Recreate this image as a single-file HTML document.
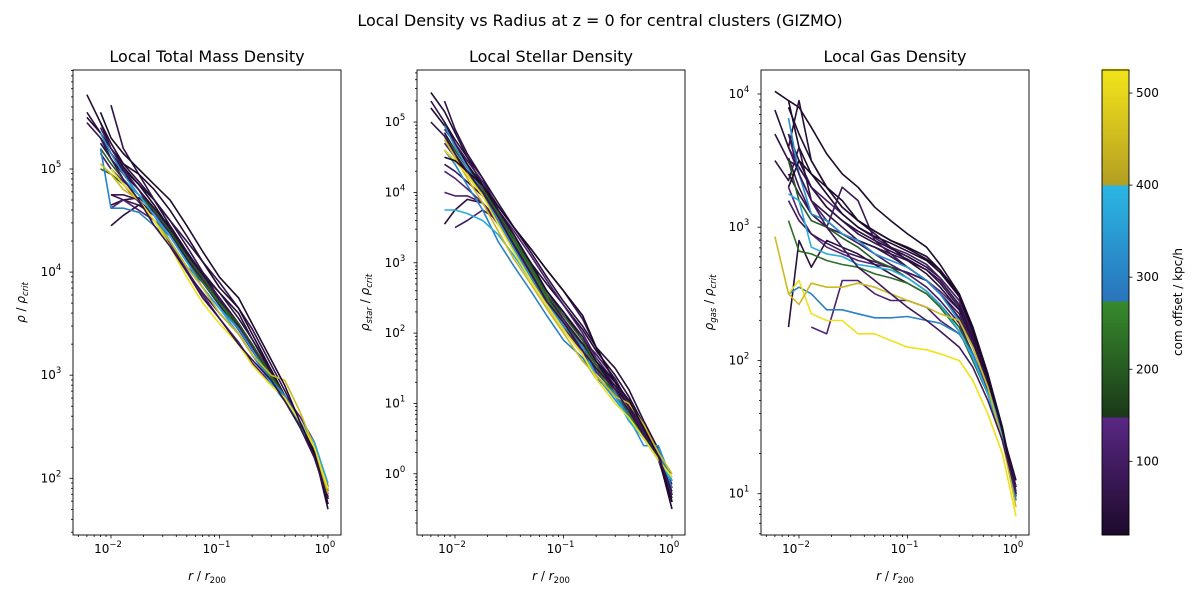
<!DOCTYPE html>
<html><head><meta charset="utf-8"><style>
body{margin:0;background:#fff}
svg{font-family:"DejaVu Sans","Liberation Sans",sans-serif}
</style></head><body>
<svg id="fig" width="1200" height="600" viewBox="0 0 1200 600" xmlns="http://www.w3.org/2000/svg">
<rect width="1200" height="600" fill="#fff"/>
<text x="600" y="26" text-anchor="middle" font-size="16">Local Density vs Radius at z = 0 for central clusters (GIZMO)</text>
<g id="plots"></g>
</svg>
<script>
const radii=[0.006,0.008,0.01,0.013,0.018,0.025,0.035,0.05,0.07,0.1,0.15,0.2,0.3,0.4,0.55,0.75,1.0];
const totalOffsets=[35,45,65,110,130,22,85,55,40,60,30,90,120,50,80,200,230,320,370,300,450,520,25,70];
const totalVals=[
[null,5.25,5.1,4.95,4.8,4.62,4.42,4.18,3.95,3.72,3.48,3.28,3.0,2.78,2.52,2.28,1.82],
[null,null,4.65,4.7,4.72,4.6,4.45,4.2,3.97,3.8,3.6,3.35,3.02,2.8,2.52,2.25,1.75],
[null,5.3,5.15,5.0,4.85,4.7,4.5,4.3,4.1,3.9,3.65,3.45,3.1,2.85,2.55,2.25,1.8],
[null,5.15,5.0,4.85,4.68,4.5,4.28,4.02,3.78,3.55,3.32,3.12,2.92,2.75,2.5,2.25,1.85],
[null,null,5.0,4.88,4.75,4.58,4.38,4.12,3.9,3.68,3.45,3.25,2.97,2.78,2.5,2.28,1.88],
[null,5.45,5.2,5.02,4.85,4.65,4.42,4.15,3.92,3.7,3.5,3.28,2.98,2.78,2.5,2.22,1.8],
[null,null,4.75,4.7,4.65,4.55,4.38,4.15,3.92,3.7,3.48,3.28,3.0,2.8,2.52,2.25,1.82],
[5.55,5.35,5.15,4.98,4.8,4.6,4.4,4.12,3.9,3.68,3.44,3.24,2.98,2.78,2.5,2.25,1.8],
[5.72,5.45,5.25,5.05,4.88,4.7,4.45,4.2,3.98,3.75,3.5,3.3,3.0,2.8,2.5,2.25,1.7],
[null,null,5.62,5.2,4.95,4.7,4.5,4.25,4.0,3.8,3.55,3.35,3.05,2.8,2.5,2.2,1.8],
[5.5,5.35,5.2,5.05,4.95,4.8,4.6,4.35,4.1,3.85,3.65,3.4,3.05,2.8,2.55,2.25,1.85],
[null,5.4,5.2,5.0,4.8,4.55,4.3,4.0,3.8,3.6,3.4,3.2,2.95,2.75,2.55,2.3,1.9],
[null,null,4.62,4.7,4.6,4.5,4.3,4.05,3.9,3.7,3.45,3.3,3.0,2.8,2.6,2.35,1.92],
[null,null,4.45,4.55,4.65,4.6,4.4,4.15,3.95,3.75,3.5,3.3,3.0,2.8,2.5,2.3,1.85],
[null,null,4.75,4.75,4.7,4.55,4.35,4.1,3.95,3.75,3.45,3.25,2.95,2.8,2.5,2.3,1.9],
[null,5.2,5.05,4.9,4.75,4.6,4.4,4.15,3.95,3.7,3.5,3.3,3.0,2.8,2.55,2.3,1.9],
[null,5.0,4.95,4.85,4.7,4.5,4.35,4.1,3.9,3.7,3.45,3.25,2.98,2.78,2.52,2.3,1.88],
[null,5.35,5.15,4.95,4.75,4.55,4.3,4.05,3.85,3.65,3.45,3.25,2.95,2.8,2.55,2.3,1.9],
[null,5.3,5.1,4.9,4.75,4.55,4.35,4.1,3.85,3.65,3.4,3.2,2.92,2.75,2.55,2.35,1.95],
[null,5.2,4.62,4.62,4.58,4.45,4.3,4.05,3.85,3.6,3.4,3.2,2.95,2.8,2.5,2.3,1.9],
[null,5.05,4.95,4.8,4.7,4.5,4.3,4.05,3.85,3.6,3.4,3.2,3.0,2.95,2.65,2.3,1.85],
[null,null,5.0,4.85,4.7,4.5,4.25,3.95,3.7,3.5,3.3,3.1,2.9,2.78,2.55,2.3,1.9],
[null,5.55,5.3,5.15,5.0,4.85,4.7,4.45,4.2,3.95,3.75,3.5,3.15,2.9,2.55,2.25,1.75],
[5.45,5.3,5.1,4.9,4.7,4.45,4.25,4.0,3.75,3.55,3.3,3.15,2.95,2.75,2.5,2.2,1.8]];
const stellarOffsets=[35,45,65,110,130,22,85,55,40,30,60,90,50,100,120,210,240,330,300,380,450,520,20,70];
const stellarVals=[
[null,4.85,4.6,4.35,4.05,3.7,3.35,3.0,2.7,2.4,2.05,1.75,1.4,1.1,0.7,0.35,-0.2],
[null,5.0,4.75,4.5,4.2,3.85,3.5,3.15,2.8,2.45,2.1,1.8,1.5,1.2,0.75,0.35,-0.3],
[null,4.6,4.45,4.25,4.0,3.7,3.35,3.0,2.6,2.3,1.95,1.6,1.25,1.05,0.65,0.3,-0.35],
[null,4.7,4.5,4.3,4.05,3.75,3.45,3.1,2.75,2.4,2.0,1.65,1.3,0.95,0.55,0.2,-0.4],
[null,4.3,4.2,4.05,3.85,3.55,3.25,2.9,2.5,2.15,1.8,1.5,1.2,0.9,0.6,0.3,-0.1],
[null,4.8,4.55,4.25,3.95,3.6,3.2,2.8,2.4,2.05,1.7,1.5,1.25,0.95,0.6,0.25,-0.5],
[null,4.4,4.3,4.15,3.95,3.65,3.3,2.95,2.6,2.25,1.9,1.7,1.35,1.0,0.6,0.2,-0.3],
[5.3,5.0,4.7,4.4,4.05,3.65,3.25,2.85,2.5,2.15,1.85,1.55,1.25,0.95,0.6,0.2,-0.3],
[5.42,5.15,4.85,4.5,4.1,3.7,3.3,2.9,2.5,2.2,1.85,1.6,1.2,1.0,0.7,0.3,-0.4],
[5.2,4.95,4.7,4.4,4.1,3.75,3.4,3.0,2.6,2.3,1.9,1.6,1.3,1.0,0.6,0.3,-0.3],
[null,5.3,4.9,4.55,4.2,3.75,3.35,2.95,2.55,2.2,1.8,1.5,1.1,0.9,0.5,0.2,-0.2],
[null,4.9,4.7,4.45,4.15,3.8,3.5,3.2,2.9,2.6,2.2,1.8,1.3,1.0,0.6,0.3,-0.1],
[null,3.55,3.75,3.9,3.85,3.6,3.25,2.85,2.45,2.1,1.7,1.4,1.1,0.9,0.5,0.25,-0.15],
[null,null,3.5,3.6,3.75,3.6,3.3,2.9,2.5,2.2,1.8,1.45,1.15,0.85,0.5,0.2,-0.3],
[null,4.0,3.95,3.95,3.85,3.55,3.2,2.8,2.45,2.1,1.75,1.45,1.15,0.8,0.55,0.2,-0.2],
[null,4.8,4.6,4.35,4.05,3.7,3.35,2.95,2.55,2.25,1.9,1.55,1.15,0.9,0.55,0.2,0.0],
[null,4.6,4.45,4.25,4.0,3.65,3.3,2.9,2.5,2.15,1.8,1.5,1.1,0.85,0.5,0.2,-0.05],
[null,4.95,4.65,4.35,4.0,3.6,3.2,2.8,2.45,2.1,1.8,1.4,1.05,0.8,0.4,0.4,-0.1],
[null,4.6,4.4,4.1,3.75,3.3,2.95,2.6,2.25,1.9,1.65,1.35,1.15,0.8,0.5,0.35,-0.2],
[null,3.75,3.75,3.7,3.6,3.4,3.1,2.75,2.4,2.05,1.7,1.4,1.1,0.75,0.5,0.2,-0.1],
[null,4.75,4.5,4.2,3.85,3.45,3.05,2.7,2.35,2.0,1.6,1.4,1.1,1.0,0.7,0.3,0.0],
[null,4.6,4.45,4.25,3.95,3.55,3.15,2.75,2.4,2.05,1.7,1.35,1.0,0.8,0.5,0.2,-0.05],
[null,4.5,4.45,4.3,4.1,3.8,3.5,3.2,2.9,2.6,2.25,1.8,1.3,1.05,0.65,0.25,-0.4],
[5.0,4.8,4.55,4.3,4.0,3.65,3.25,2.85,2.45,2.15,1.75,1.5,1.2,0.9,0.55,0.25,-0.25]];
const gasOffsets=[35,45,65,110,130,22,85,55,25,40,60,80,100,50,120,200,230,330,300,380,520,450,20,90];
const gasVals=[
[null,3.9,3.7,3.5,3.3,3.15,3.05,2.97,2.9,2.84,2.76,2.68,2.5,2.25,1.9,1.48,1.0],
[null,3.7,3.5,3.3,3.15,3.05,2.97,2.9,2.84,2.78,2.7,2.62,2.45,2.2,1.87,1.46,1.0],
[null,3.4,3.25,3.1,3.0,2.95,2.9,2.85,2.8,2.75,2.68,2.58,2.4,2.17,1.85,1.45,1.0],
[null,3.6,3.45,3.3,3.2,3.1,3.0,2.92,2.85,2.8,2.72,2.62,2.45,2.2,1.86,1.45,1.05],
[null,3.3,3.1,2.95,2.85,2.8,2.75,2.72,2.7,2.66,2.6,2.52,2.38,2.15,1.83,1.45,1.02],
[null,3.95,3.6,3.4,3.25,3.1,3.0,2.93,2.88,2.82,2.75,2.66,2.48,2.22,1.88,1.46,1.1],
[null,3.2,3.05,2.95,2.88,2.82,2.78,2.74,2.7,2.66,2.6,2.5,2.35,2.12,1.82,1.44,0.98],
[3.7,3.5,3.45,3.3,3.15,3.05,2.95,2.88,2.82,2.76,2.68,2.6,2.42,2.18,1.85,1.45,1.0],
[4.02,3.95,3.9,3.75,3.55,3.4,3.3,3.15,3.05,2.95,2.85,2.72,2.5,2.25,1.9,1.5,1.0],
[3.88,3.6,3.95,3.5,3.3,3.15,3.05,2.95,2.85,2.75,2.65,2.55,2.38,2.15,1.85,1.45,1.05],
[3.5,3.35,3.6,3.2,3.1,3.0,2.9,2.85,2.78,2.7,2.6,2.5,2.32,2.1,1.8,1.45,1.0],
[null,3.52,3.3,3.1,3.0,3.3,3.2,2.9,2.8,2.7,2.6,2.5,2.3,2.1,1.8,1.45,1.05],
[null,3.7,3.4,3.2,3.05,2.95,2.88,2.8,2.72,2.65,2.55,2.45,2.28,2.05,1.75,1.4,0.95],
[null,2.25,2.9,2.7,2.9,2.85,2.8,2.72,2.65,2.58,2.5,2.4,2.22,2.0,1.75,1.4,0.98],
[null,null,null,2.25,2.2,2.6,2.6,2.5,2.45,2.45,2.4,2.3,2.2,2.05,1.78,1.42,1.0],
[null,3.5,3.2,3.05,3.0,2.92,2.85,2.75,2.7,2.62,2.52,2.42,2.25,2.05,1.75,1.42,0.98],
[null,3.05,2.82,2.8,2.75,2.72,2.7,2.65,2.62,2.58,2.5,2.4,2.22,2.0,1.75,1.4,1.0],
[null,3.82,3.4,3.1,3.05,2.95,2.9,2.8,2.75,2.7,2.6,2.5,2.3,2.1,1.8,1.45,1.0],
[null,2.5,2.55,2.5,2.38,2.38,2.35,2.32,2.32,2.33,2.3,2.28,2.2,2.05,1.75,1.4,0.95],
[null,3.25,3.2,2.85,2.8,2.78,2.72,2.7,2.68,2.62,2.52,2.42,2.22,2.02,1.75,1.42,1.0],
[null,2.5,2.6,2.35,2.3,2.3,2.2,2.2,2.15,2.1,2.08,2.05,2.0,1.85,1.6,1.3,0.83],
[2.93,2.5,2.42,2.58,2.55,2.55,2.58,2.55,2.5,2.45,2.4,2.35,2.3,2.1,1.8,1.4,0.9],
[null,3.3,3.5,3.4,3.3,3.2,3.05,2.97,2.9,2.85,2.78,2.68,2.48,2.22,1.88,1.47,1.0],
[null,3.6,3.4,3.2,3.0,2.85,2.7,2.6,2.5,2.4,2.3,2.22,2.1,1.95,1.7,1.4,1.0]];
const cbTicks=[100,200,300,400,500];

const NS="http://www.w3.org/2000/svg";
const root=document.getElementById('plots');
function mk(tag,attrs,parent){const e=document.createElementNS(NS,tag);for(const k in attrs)e.setAttribute(k,attrs[k]);(parent||root).appendChild(e);return e;}
function hex(c){return [parseInt(c.slice(1,3),16),parseInt(c.slice(3,5),16),parseInt(c.slice(5,7),16)];}
function mix(a,b,t){const A=hex(a),B=hex(b);return 'rgb('+A.map((v,i)=>Math.round(v+(B[i]-v)*t)).join(',')+')';}
const bands=[[20,147,'#1c0a2a','#5a2884'],[147,273,'#1a3818','#378a2e'],[273,400,'#2a74bc','#2ab6e2'],[400,525,'#b49e22','#f2e41a']];
function cmap(v){for(const b of bands){if(v<=b[1]||b===bands[3]){const t=Math.max(0,Math.min(1,(v-b[0])/(b[1]-b[0])));return mix(b[2],b[3],t);}}}

const X0=-2.35,X1=0.12;
const panels=[
{name:'total',left:73,title:'Local Total Mass Density',ysub:'crit',ymin:1.45,ymax:5.96,offs:totalOffsets,vals:totalVals},
{name:'stellar',left:417,title:'Local Stellar Density',ysubA:'star',ysub:'crit',ymin:-0.87,ymax:5.74,offs:stellarOffsets,vals:stellarVals},
{name:'gas',left:761,title:'Local Gas Density',ysubA:'gas',ysub:'crit',ymin:0.69,ymax:4.18,offs:gasOffsets,vals:gasVals}];
const TOP=70,BOT=535,W=268;
panels.forEach(p=>{
  const g=mk('g',{});
  
  
  const xs=lr=>p.left+(lr-X0)/(X1-X0)*W;
  const ys=lv=>BOT-(lv-p.ymin)/(p.ymax-p.ymin)*(BOT-TOP);
  const cp='clip'+p.name;
  const cl=mk('clipPath',{id:cp},g);mk('rect',{x:p.left,y:TOP,width:W,height:BOT-TOP},cl);
  const lg=mk('g',{'clip-path':'url(#'+cp+')'},g);
  p.vals.forEach((arr,i)=>{
    let d='';arr.forEach((v,j)=>{if(v===null)return;d+=(d?'L':'M')+xs(Math.log10(radii[j])).toFixed(1)+','+ys(v).toFixed(1);});
    const pl=mk('path',{d:d,fill:'none',stroke:cmap(p.offs[i]),'stroke-width':1.6,'stroke-linejoin':'round'},lg);
    
    
  });
  const fr=mk('rect',{x:p.left,y:TOP,width:W,height:BOT-TOP,fill:'none',stroke:'#000','stroke-width':0.9},g);
  
  
  for(let e=-3;e<=0;e++){for(let m=1;m<10;m++){const lr=e+Math.log10(m);if(lr<X0||lr>X1)continue;const x=xs(lr);
    mk('line',{x1:x,x2:x,y1:BOT,y2:BOT+(m===1?3.5:2),stroke:'#000','stroke-width':0.8},g);
    if(m===1){const t=mk('text',{x:x-3,y:BOT+18,'font-size':12,'text-anchor':'middle'},g);
      t.textContent='10';const s=mk('tspan',{dy:-6,'font-size':8.5},t);s.textContent=e<0?'−'+(-e):String(e);}}}
  const xl=mk('text',{x:p.left+W/2,y:580,'font-size':12,'text-anchor':'middle'},g);
  const a=mk('tspan',{'font-style':'italic'},xl);a.textContent='r';const b=mk('tspan',{},xl);b.textContent=' / ';const c=mk('tspan',{'font-style':'italic'},xl);c.textContent='r';const d2=mk('tspan',{dy:3,'font-size':8.5},xl);d2.textContent='200';
  for(let e=-1;e<=6;e++){for(let m=1;m<10;m++){const lv=e+Math.log10(m);if(lv<p.ymin||lv>p.ymax)continue;const y=ys(lv);
    mk('line',{x1:p.left,x2:p.left-(m===1?3.5:2),y1:y,y2:y,stroke:'#000','stroke-width':0.8},g);
    if(m===1){const t=mk('text',{x:p.left-22,y:y+4,'font-size':12,'text-anchor':'middle'},g);
      t.textContent='10';const s=mk('tspan',{dy:-6,'font-size':8.5},t);s.textContent=String(e);}}}
  const yx=p.left-48,yy=(TOP+BOT)/2;
  const yl=mk('text',{x:yx,y:yy,'font-size':12,'text-anchor':'middle',transform:'rotate(-90 '+yx+' '+yy+')'},g);
  
  const r1=mk('tspan',{'font-style':'italic'},yl);r1.textContent='ρ';
  if(p.ysubA){const sA=mk('tspan',{dy:3,'font-size':8.5,'font-style':'italic'},yl);sA.textContent=p.ysubA;const m1=mk('tspan',{dy:-3},yl);m1.textContent=' / ';}
  else{const m1=mk('tspan',{},yl);m1.textContent=' / ';}
  const r2=mk('tspan',{'font-style':'italic'},yl);r2.textContent='ρ';
  const s2=mk('tspan',{dy:3,'font-size':8.5,'font-style':'italic'},yl);s2.textContent=p.ysub;
  const tt=mk('text',{x:p.left+W/2,y:62,'font-size':16,'text-anchor':'middle'},g);
  tt.textContent=p.title;
});
const CBX=1102,CBW=27,CMIN=20,CMAX=525;
const cbs=v=>BOT-(v-CMIN)/(CMAX-CMIN)*(BOT-TOP);
const cg=mk('g',{});


for(let v=CMIN;v<CMAX;v+=2){mk('rect',{x:CBX,y:cbs(v+2)-0.3,width:CBW,height:cbs(v)-cbs(v+2)+0.6,fill:cmap(v+1)},cg);}
mk('rect',{x:CBX,y:TOP,width:CBW,height:BOT-TOP,fill:'none',stroke:'#000','stroke-width':0.9},cg);
cbTicks.forEach(v=>{const y=cbs(v);mk('line',{x1:CBX+CBW,x2:CBX+CBW+3.5,y1:y,y2:y,stroke:'#000','stroke-width':0.8},cg);
  const t=mk('text',{x:CBX+CBW+7,y:y+4,'font-size':12},cg);t.textContent=v;});
const cl2=mk('text',{x:1182,y:302,'font-size':12,'text-anchor':'middle',transform:'rotate(-90 1182 302)'},cg);
cl2.textContent='com offset / kpc/h';
</script>
</body></html>
